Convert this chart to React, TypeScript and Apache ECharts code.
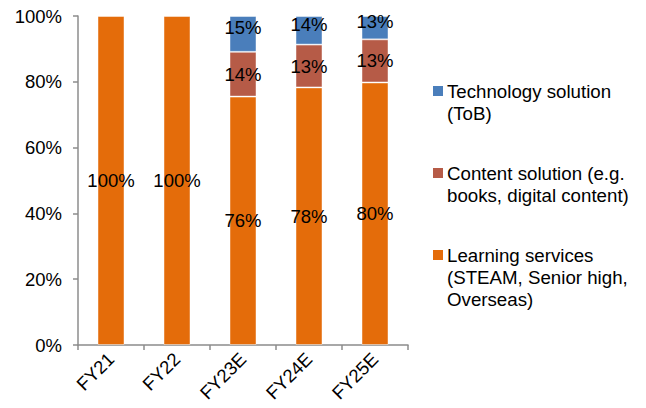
import React, { useEffect, useRef } from "react";
import * as echarts from "echarts";

const categories = ["FY21", "FY22", "FY23E", "FY24E", "FY25E"];
const seriesNames = [
  "Learning services\n(STEAM, Senior high,\nOverseas)",
  "Content solution (e.g.\nbooks, digital content)",
  "Technology solution\n(ToB)",
];
// segment heights as drawn (share of bar, %)
const learningValues = [100, 100, 75.5, 78.3, 79.8];
const contentValues = [null, null, 13.6, 13.0, 13.1];
const techValues = [null, null, 10.9, 8.7, 7.1];
// labels as printed on the bars
const learningLabels = ["100%", "100%", "76%", "78%", "80%"];
const contentLabels = ["", "", "14%", "13%", "13%"];
const techLabels = ["", "", "15%", "14%", "13%"];
const yTicks = [0, 20, 40, 60, 80, 100];

const colors = ["#E46C0A", "#B65B47", "#4A7EBB"];
const FONT = "Arial, 'Liberation Sans', sans-serif";

export default function App() {
  const ref = useRef<HTMLDivElement>(null);
  useEffect(() => {
    if (!ref.current) return;
    const chart = echarts.init(ref.current, null, { renderer: "svg" });
    const values = [learningValues, contentValues, techValues];
    const labels = [learningLabels, contentLabels, techLabels];
    const series = values.map((vals, i) => ({
      type: "bar",
      name: seriesNames[i],
      stack: "total",
      data: vals,
      barWidth: 27,
      itemStyle: { color: colors[i], borderColor: "rgba(255,255,255,0.45)", borderWidth: 1 },
      label: {
        show: true,
        position: "inside",
        offset: i === 2 ? [0, -6] : [0, 0],
        color: "#000",
        fontSize: 18.5,
        fontFamily: FONT,
        formatter: (p: any) => labels[i][p.dataIndex],
      },
    }));

    // legend drawn top to bottom: tech, content, learning
    const legendOrder = [2, 1, 0];
    const legendTops = [80, 162, 244];
    const graphics: any[] = [];
    legendOrder.forEach((si, k) => {
      graphics.push({
        type: "rect",
        shape: { x: 433, y: legendTops[k] + 6, width: 10, height: 10 },
        style: { fill: colors[si] },
      });
      graphics.push({
        type: "text",
        x: 447,
        y: legendTops[k],
        style: {
          text: seriesNames[si],
          fill: "#000",
          font: `18.7px ${FONT}`,
          lineHeight: 22,
          textVerticalAlign: "top",
        },
      });
    });

    chart.setOption({
      animation: false,
      grid: { left: 78, right: 238, top: 16, bottom: 63, containLabel: false },
      xAxis: {
        type: "category",
        data: categories,
        axisLine: { lineStyle: { color: "#8c8c8c", width: 1.5 } },
        axisTick: { show: true, length: 5, alignWithLabel: false, lineStyle: { color: "#8c8c8c", width: 1.5 } },
        axisLabel: { rotate: 45, margin: 11, color: "#000", fontSize: 18.5, fontFamily: FONT },
      },
      yAxis: {
        type: "value",
        min: 0,
        max: 100,
        interval: 20,
        axisLine: { show: true, lineStyle: { color: "#8c8c8c", width: 1.5 } },
        axisTick: { show: true, length: 5, inside: false, lineStyle: { color: "#8c8c8c", width: 1.5 } },
        splitLine: { show: false },
        axisLabel: {
          margin: 16,
          color: "#000",
          fontSize: 18.5,
          fontFamily: FONT,
          formatter: (v: number) => (yTicks.includes(v) ? `${v}%` : ""),
        },
      },
      series,
      graphic: graphics,
    });
    return () => chart.dispose();
  }, []);
  return <div ref={ref} style={{ width: 646, height: 408, position: "absolute", left: 0, top: 0 }} />;
}
